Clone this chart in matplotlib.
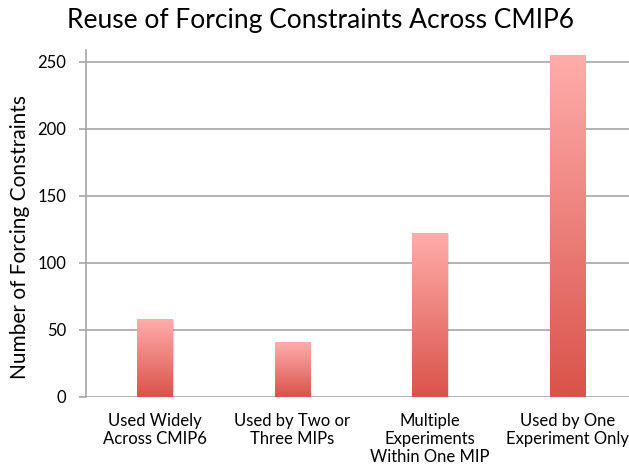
import numpy as np
import matplotlib; matplotlib.use("Agg")
import matplotlib.pyplot as plt
from matplotlib.colors import LinearSegmentedColormap
from matplotlib.patches import Rectangle

categories = ["Used Widely\nAcross CMIP6", "Used by Two or\nThree MIPs",
              "Multiple\nExperiments\nWithin One MIP", "Used by One\nExperiment Only"]
counts = [58, 41, 122, 255]
yticks = [0, 50, 100, 150, 200, 250]

plt.rcParams["font.family"] = ["Lato", "DejaVu Sans"]
GRID = "#a6a6a6"
grad = LinearSegmentedColormap.from_list("g", ["#d9534a", "#ffadab"])

fig = plt.figure(figsize=(6.29, 4.73), dpi=100)
ax = fig.add_axes([0.1367, 0.1617, 0.8633, 0.7326])

x = np.arange(len(categories))
bars = ax.bar(x, counts, width=0.255, color="none", zorder=3)
g = np.linspace(0, 1, 256).reshape(-1, 1)
for b in bars:
    x0, w, h = b.get_x(), b.get_width(), b.get_height()
    # soft shadow
    ax.add_patch(Rectangle((x0 + 0.012, 0), w, h - 1.0, color="#000000", alpha=0.12,
                           lw=0, zorder=2))
    ax.imshow(g, cmap=grad, origin="lower", aspect="auto",
              extent=(x0, x0 + w, 0, h), zorder=3)

ax.set_xlim(-0.5, 3.45)
ax.set_ylim(0, 258.6)
ax.set_yticks(yticks)
ax.yaxis.grid(True, color=GRID, lw=1.2, zorder=1)
ax.set_axisbelow(True)
for s in ("top", "right", "bottom"):
    ax.spines[s].set_visible(False)
ax.spines["left"].set_color(GRID)
ax.spines["left"].set_linewidth(1.2)
ax.tick_params(axis="y", color=GRID, width=1.2, length=5, labelsize=12, pad=9)
ax.tick_params(axis="x", length=0, labelsize=12, pad=12)
ax.set_xticks(x)
ax.set_xticklabels(categories, linespacing=1.15)
ax.set_ylabel("Number of Forcing Constraints", fontsize=15, va="center")
ax.yaxis.set_label_coords(-0.1215, 0.46)

fig.text(0.5095, 0.941, "Reuse of Forcing Constraints Across CMIP6", ha="center",
         va="baseline", fontsize=19)

fig.savefig("out.png", dpi=100)
